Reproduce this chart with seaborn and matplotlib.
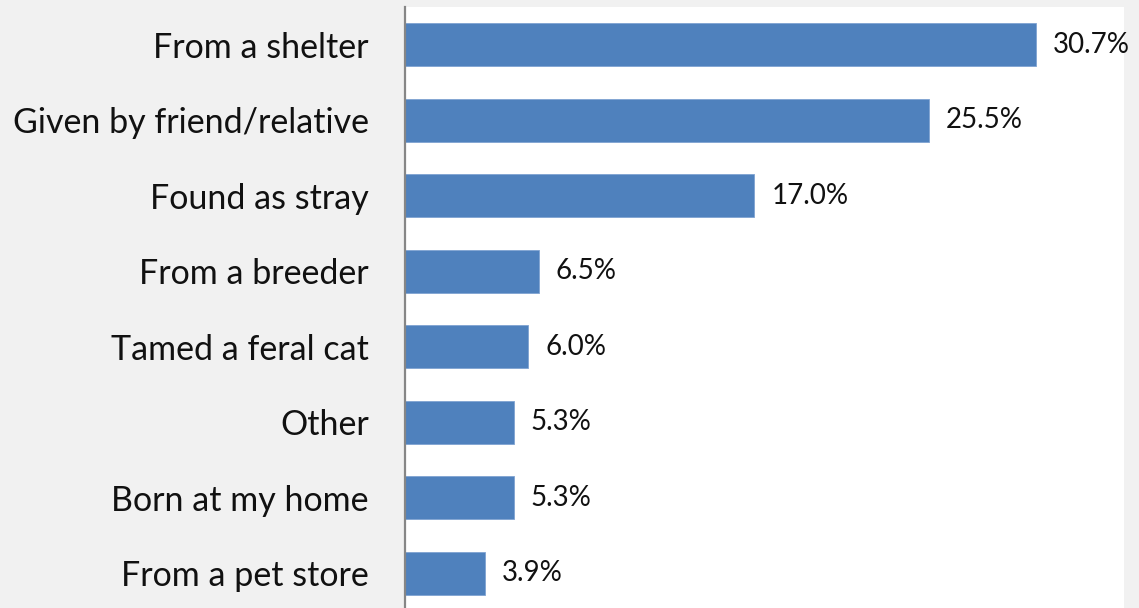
import matplotlib
matplotlib.use("Agg")
import matplotlib.pyplot as plt
import seaborn as sns
import pandas as pd

sources = ["From a shelter", "Given by friend/relative", "Found as stray",
           "From a breeder", "Tamed a feral cat", "Other",
           "Born at my home", "From a pet store"]
shares = [30.7, 25.5, 17.0, 6.5, 6.0, 5.3, 5.3, 3.9]

df = pd.DataFrame({"source": sources, "share": shares})

sns.set_style("white")
plt.rcParams["font.family"] = ["Lato", "DejaVu Sans"]

W, H = 1139, 608
fig = plt.figure(figsize=(W / 100, H / 100), dpi=100, facecolor="#f1f1f1")
# axes box in pixel terms: x 405..1124, y 7..611 (runs just past the bottom edge)
ax = fig.add_axes([405 / W, 1 - 611 / H, (1124 - 405) / W, (611 - 7) / H])
ax.set_facecolor("white")

sns.barplot(data=df, x="share", y="source", orient="h", color="#4f81bd",
            width=0.57, saturation=1, edgecolor="#7fa3d2", linewidth=0.6,
            ax=ax)

ax.set_xlim(0, 35.0)
ax.set_ylim(7.5, -0.5)
ax.set_xlabel("")
ax.set_ylabel("")
ax.set_xticks([])
ax.tick_params(axis="y", length=0, pad=26, labelsize=24.5, labelcolor="#111111")

for side in ("top", "right", "bottom"):
    ax.spines[side].set_visible(False)
ax.spines["left"].set_color("#868686")
ax.spines["left"].set_linewidth(1.6)

for i, v in enumerate(shares):
    ax.annotate(f"{v:.1f}%", xy=(v, i), xytext=(17, 0), textcoords="offset pixels",
                ha="left", va="center", fontsize=20, color="#111111",
                annotation_clip=False)

fig.savefig("out.png", dpi=100, facecolor=fig.get_facecolor())
